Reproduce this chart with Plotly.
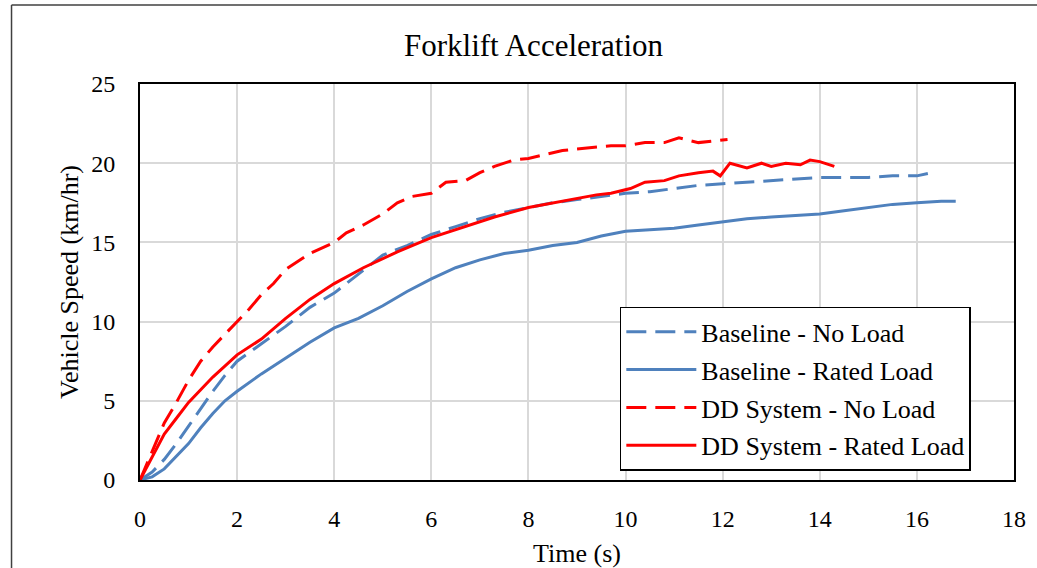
import plotly.graph_objects as go

# ---- data ----
t_base_noload = [0, 0.25, 0.5, 0.75, 1, 1.25, 1.5, 1.75, 2, 2.5, 3, 3.5, 4, 4.25, 4.5, 5, 5.5, 6, 6.5, 7,
                 7.5, 8, 8.5, 9, 9.5, 10, 10.5, 11, 11.5, 12, 12.5, 13, 13.5, 14, 14.5, 15, 15.5, 16, 16.3]
v_base_noload = [0, 0.5, 1.3, 2.3, 3.4, 4.5, 5.6, 6.6, 7.5, 8.6, 9.7, 10.9, 11.8, 12.4, 13.0, 14.2, 14.8, 15.5, 16.0, 16.5,
                 16.9, 17.2, 17.5, 17.7, 17.9, 18.1, 18.2, 18.4, 18.6, 18.7, 18.8, 18.9, 19.0, 19.1, 19.1, 19.1, 19.2, 19.2, 19.4]

t_base_rated = [0, 0.25, 0.5, 0.75, 1, 1.25, 1.5, 1.75, 2, 2.5, 3, 3.5, 4, 4.5, 5, 5.5, 6, 6.5, 7, 7.5,
                8, 8.5, 9, 9.5, 10, 10.5, 11, 11.5, 12, 12.5, 13, 13.5, 14, 14.5, 15, 15.5, 16, 16.5, 16.8]
v_base_rated = [0, 0.2, 0.7, 1.5, 2.3, 3.3, 4.2, 5.0, 5.6, 6.7, 7.7, 8.7, 9.6, 10.2, 11.0, 11.9, 12.7, 13.4, 13.9, 14.3,
                14.5, 14.8, 15.0, 15.4, 15.7, 15.8, 15.9, 16.1, 16.3, 16.5, 16.6, 16.7, 16.8, 17.0, 17.2, 17.4, 17.5, 17.6, 17.6]

t_dd_noload = [0, 0.25, 0.5, 0.75, 1, 1.25, 1.5, 1.75, 2, 2.25, 2.5, 2.75, 3, 3.5, 4, 4.25, 4.6, 5, 5.3, 5.6,
               6, 6.3, 6.7, 7, 7.3, 7.7, 8, 8.4, 8.7, 9, 9.4, 9.7, 10, 10.4, 10.8, 11.1, 11.5, 11.8, 12.1]
v_dd_noload = [0, 1.8, 3.6, 4.9, 6.3, 7.5, 8.4, 9.2, 10.0, 10.8, 11.7, 12.4, 13.3, 14.3, 15.0, 15.6, 16.1, 16.8, 17.5, 17.9,
               18.1, 18.8, 18.9, 19.4, 19.8, 20.2, 20.3, 20.6, 20.8, 20.9, 21.0, 21.1, 21.1, 21.3, 21.3, 21.6, 21.3, 21.4, 21.5]

t_dd_rated = [0, 0.25, 0.5, 0.75, 1, 1.5, 2, 2.5, 3, 3.5, 4, 4.6, 5.3, 6, 6.7, 7.3, 8, 8.7, 9, 9.4,
              9.7, 10.1, 10.4, 10.8, 11.1, 11.5, 11.8, 11.95, 12.15, 12.5, 12.8, 13, 13.3, 13.6, 13.8, 14.0, 14.3]
v_dd_rated = [0, 1.5, 2.9, 3.9, 4.9, 6.5, 7.9, 8.9, 10.2, 11.4, 12.4, 13.4, 14.4, 15.3, 16.0, 16.6, 17.2, 17.6, 17.8, 18.0,
              18.1, 18.4, 18.8, 18.9, 19.2, 19.4, 19.5, 19.2, 20.0, 19.7, 20.0, 19.8, 20.0, 19.9, 20.2, 20.1, 19.8]

series_names = ["Baseline - No Load", "Baseline - Rated Load", "DD System - No Load", "DD System - Rated Load"]
x_ticks = [0, 2, 4, 6, 8, 10, 12, 14, 16, 18]
y_ticks = [0, 5, 10, 15, 20, 25]

BLUE = "#4F81BD"
RED = "#FF0000"
DASH = "20px,9px"
FONT = "Liberation Serif, Times New Roman, serif"

fig = go.Figure()
series = [
    (t_base_noload, v_base_noload, BLUE, DASH),
    (t_base_rated, v_base_rated, BLUE, "solid"),
    (t_dd_noload, v_dd_noload, RED, DASH),
    (t_dd_rated, v_dd_rated, RED, "solid"),
]
for i, (tx, vy, col, dash) in enumerate(series):
    fig.add_trace(go.Scatter(
        x=tx, y=vy, mode="lines", name=series_names[i], legendgroup=f"g{i}",
        line=dict(color=col, width=3, dash=dash),
    ))

fig.update_layout(
    width=1037, height=568,
    margin=dict(l=140, r=23, t=84, b=88),
    paper_bgcolor="white", plot_bgcolor="white",
    font=dict(family=FONT, color="black", size=24),
    title=dict(text="Forklift Acceleration", font=dict(family=FONT, size=31, color="black"),
               x=0.5145, xref="container", xanchor="center",
               y=1 - 45 / 568, yref="container", yanchor="middle"),
    showlegend=True,
    legend=dict(
        x=0.549, y=0.023, xanchor="left", yanchor="bottom",
        bgcolor="white", bordercolor="black", borderwidth=1.5,
        font=dict(family=FONT, size=26, color="black"),
        itemwidth=70, tracegroupgap=1, traceorder="grouped",
    ),
    shapes=[
        dict(type="line", xref="paper", yref="paper", x0=-0.147, x1=-0.147, y0=1.1995, y1=-0.26,
             line=dict(color="#404040", width=1.5)),
        dict(type="line", xref="paper", yref="paper", x0=-0.147, x1=1.05, y0=1.1995, y1=1.1995,
             line=dict(color="#404040", width=1.5)),
    ],
)

fig.update_xaxes(
    range=[0, 18], tickvals=x_ticks, ticktext=[str(v) for v in x_ticks],
    showgrid=True, gridcolor="#D9D9D9", gridwidth=1.5,
    showline=True, linecolor="black", linewidth=2, mirror=True,
    ticks="", ticklabelstandoff=16, zeroline=False, automargin=False,
    tickfont=dict(family=FONT, size=24, color="black"),
    title=dict(text="Time (s)", font=dict(family=FONT, size=26, color="black"), standoff=14),
)
fig.update_yaxes(
    range=[0, 25], tickvals=y_ticks, ticktext=[str(v) for v in y_ticks],
    showgrid=True, gridcolor="#D9D9D9", gridwidth=1.5,
    showline=True, linecolor="black", linewidth=2, mirror=True,
    ticks="", ticklabelstandoff=18, zeroline=False, automargin=False,
    tickfont=dict(family=FONT, size=24, color="black"),
    title=dict(text="Vehicle Speed (km/hr)", font=dict(family=FONT, size=26, color="black"), standoff=5),
)

fig.write_html("out.html", config={"displayModeBar": False},
               post_script="document.body.style.margin='0';")
